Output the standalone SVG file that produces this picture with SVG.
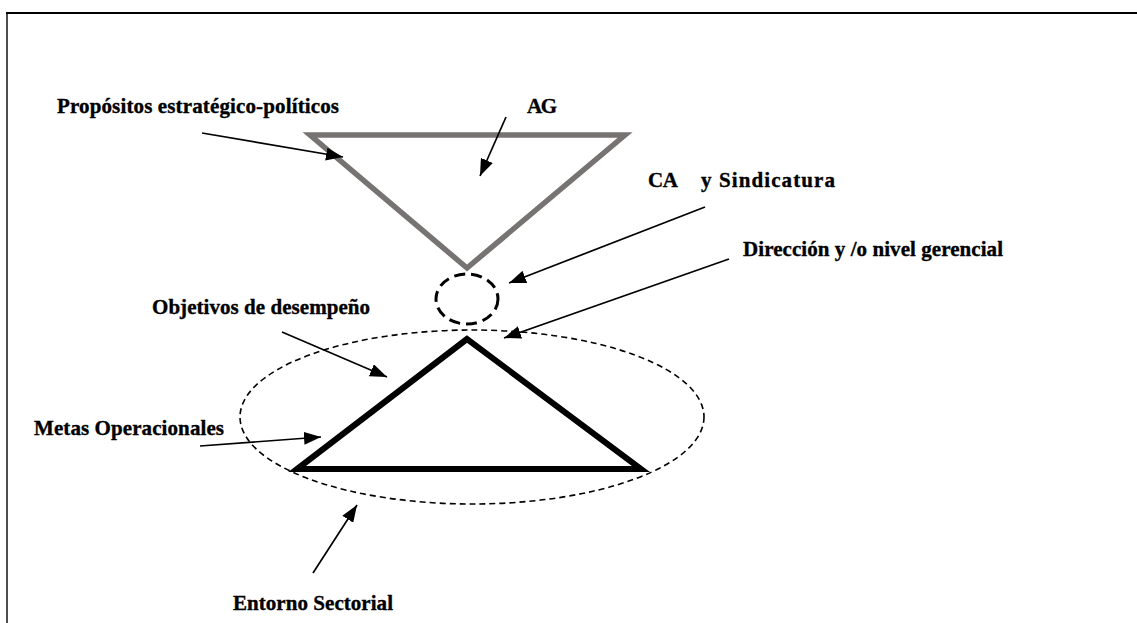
<svg xmlns="http://www.w3.org/2000/svg" width="1137" height="623" viewBox="0 0 1137 623">
  <style>
    .lbl { font-family: "Liberation Serif", "Times New Roman", serif; font-weight: bold; font-size: 21px; fill: #000; stroke: #000; stroke-width: 0.35; }
    .arrow { stroke: #000; stroke-width: 1.7; fill: none; marker-end: url(#head); }
  </style>
  <defs>
    <marker id="head" markerUnits="userSpaceOnUse" markerWidth="17" markerHeight="13" viewBox="0 0 17 13" refX="17" refY="6.5" orient="auto">
      <path d="M0,0 L17,6.5 L0,13 Z" fill="#000"/>
    </marker>
  </defs>
  <rect width="1137" height="623" fill="#fff"/>

  <!-- page frame -->
  <g id="frame" stroke="#000" fill="none">
    <line x1="6" y1="13" x2="1137" y2="13" stroke-width="2.2"/>
    <line x1="7" y1="13" x2="7" y2="623" stroke-width="1.4"/>
  </g>

  <!-- upper (inverted) triangle -->
  <g id="ag-triangle">
    <polygon points="310,135 625,135 467,268" fill="none" stroke="#777372" stroke-width="5.5"/>
  </g>

  <!-- small dashed circle between the triangles -->
  <g id="ca-circle">
    <ellipse cx="467" cy="299" rx="31" ry="25" fill="none" stroke="#000" stroke-width="3" stroke-dasharray="11 6"/>
  </g>

  <!-- dashed sector ellipse -->
  <g id="sector-ellipse">
    <ellipse cx="472" cy="417" rx="232" ry="87" fill="none" stroke="#000" stroke-width="1.6" stroke-dasharray="6 4"/>
  </g>

  <!-- lower triangle -->
  <g id="operational-triangle">
    <polygon points="467,339 297,469 641,469" fill="none" stroke="#000" stroke-width="6"/>
  </g>

  <!-- labels -->
  <g id="label-propositos"><text class="lbl" x="57" y="113" textLength="282">Propósitos estratégico-políticos</text></g>
  <g id="label-ag"><text class="lbl" x="527" y="113" textLength="30">AG</text></g>
  <g id="label-ca"><text class="lbl" x="648" y="187" textLength="30">CA</text><text class="lbl" x="701" y="187" textLength="134">y Sindicatura</text></g>
  <g id="label-direccion"><text class="lbl" x="743" y="256" textLength="260">Dirección y /o nivel gerencial</text></g>
  <g id="label-objetivos"><text class="lbl" x="152" y="314" textLength="218">Objetivos de desempeño</text></g>
  <g id="label-metas"><text class="lbl" x="34" y="435" textLength="190">Metas Operacionales</text></g>
  <g id="label-entorno"><text class="lbl" x="233" y="610" textLength="160">Entorno Sectorial</text></g>

  <!-- connectors -->
  <g id="connectors">
    <line class="arrow" x1="202" y1="133" x2="343" y2="157"/>
    <line class="arrow" x1="506" y1="117" x2="480" y2="176"/>
    <line class="arrow" x1="705" y1="207" x2="509" y2="283"/>
    <line class="arrow" x1="729" y1="259" x2="504" y2="338"/>
    <line class="arrow" x1="282" y1="332" x2="387" y2="377"/>
    <line class="arrow" x1="200" y1="446" x2="321" y2="437"/>
    <line class="arrow" x1="313" y1="573" x2="357" y2="505"/>
  </g>
</svg>
